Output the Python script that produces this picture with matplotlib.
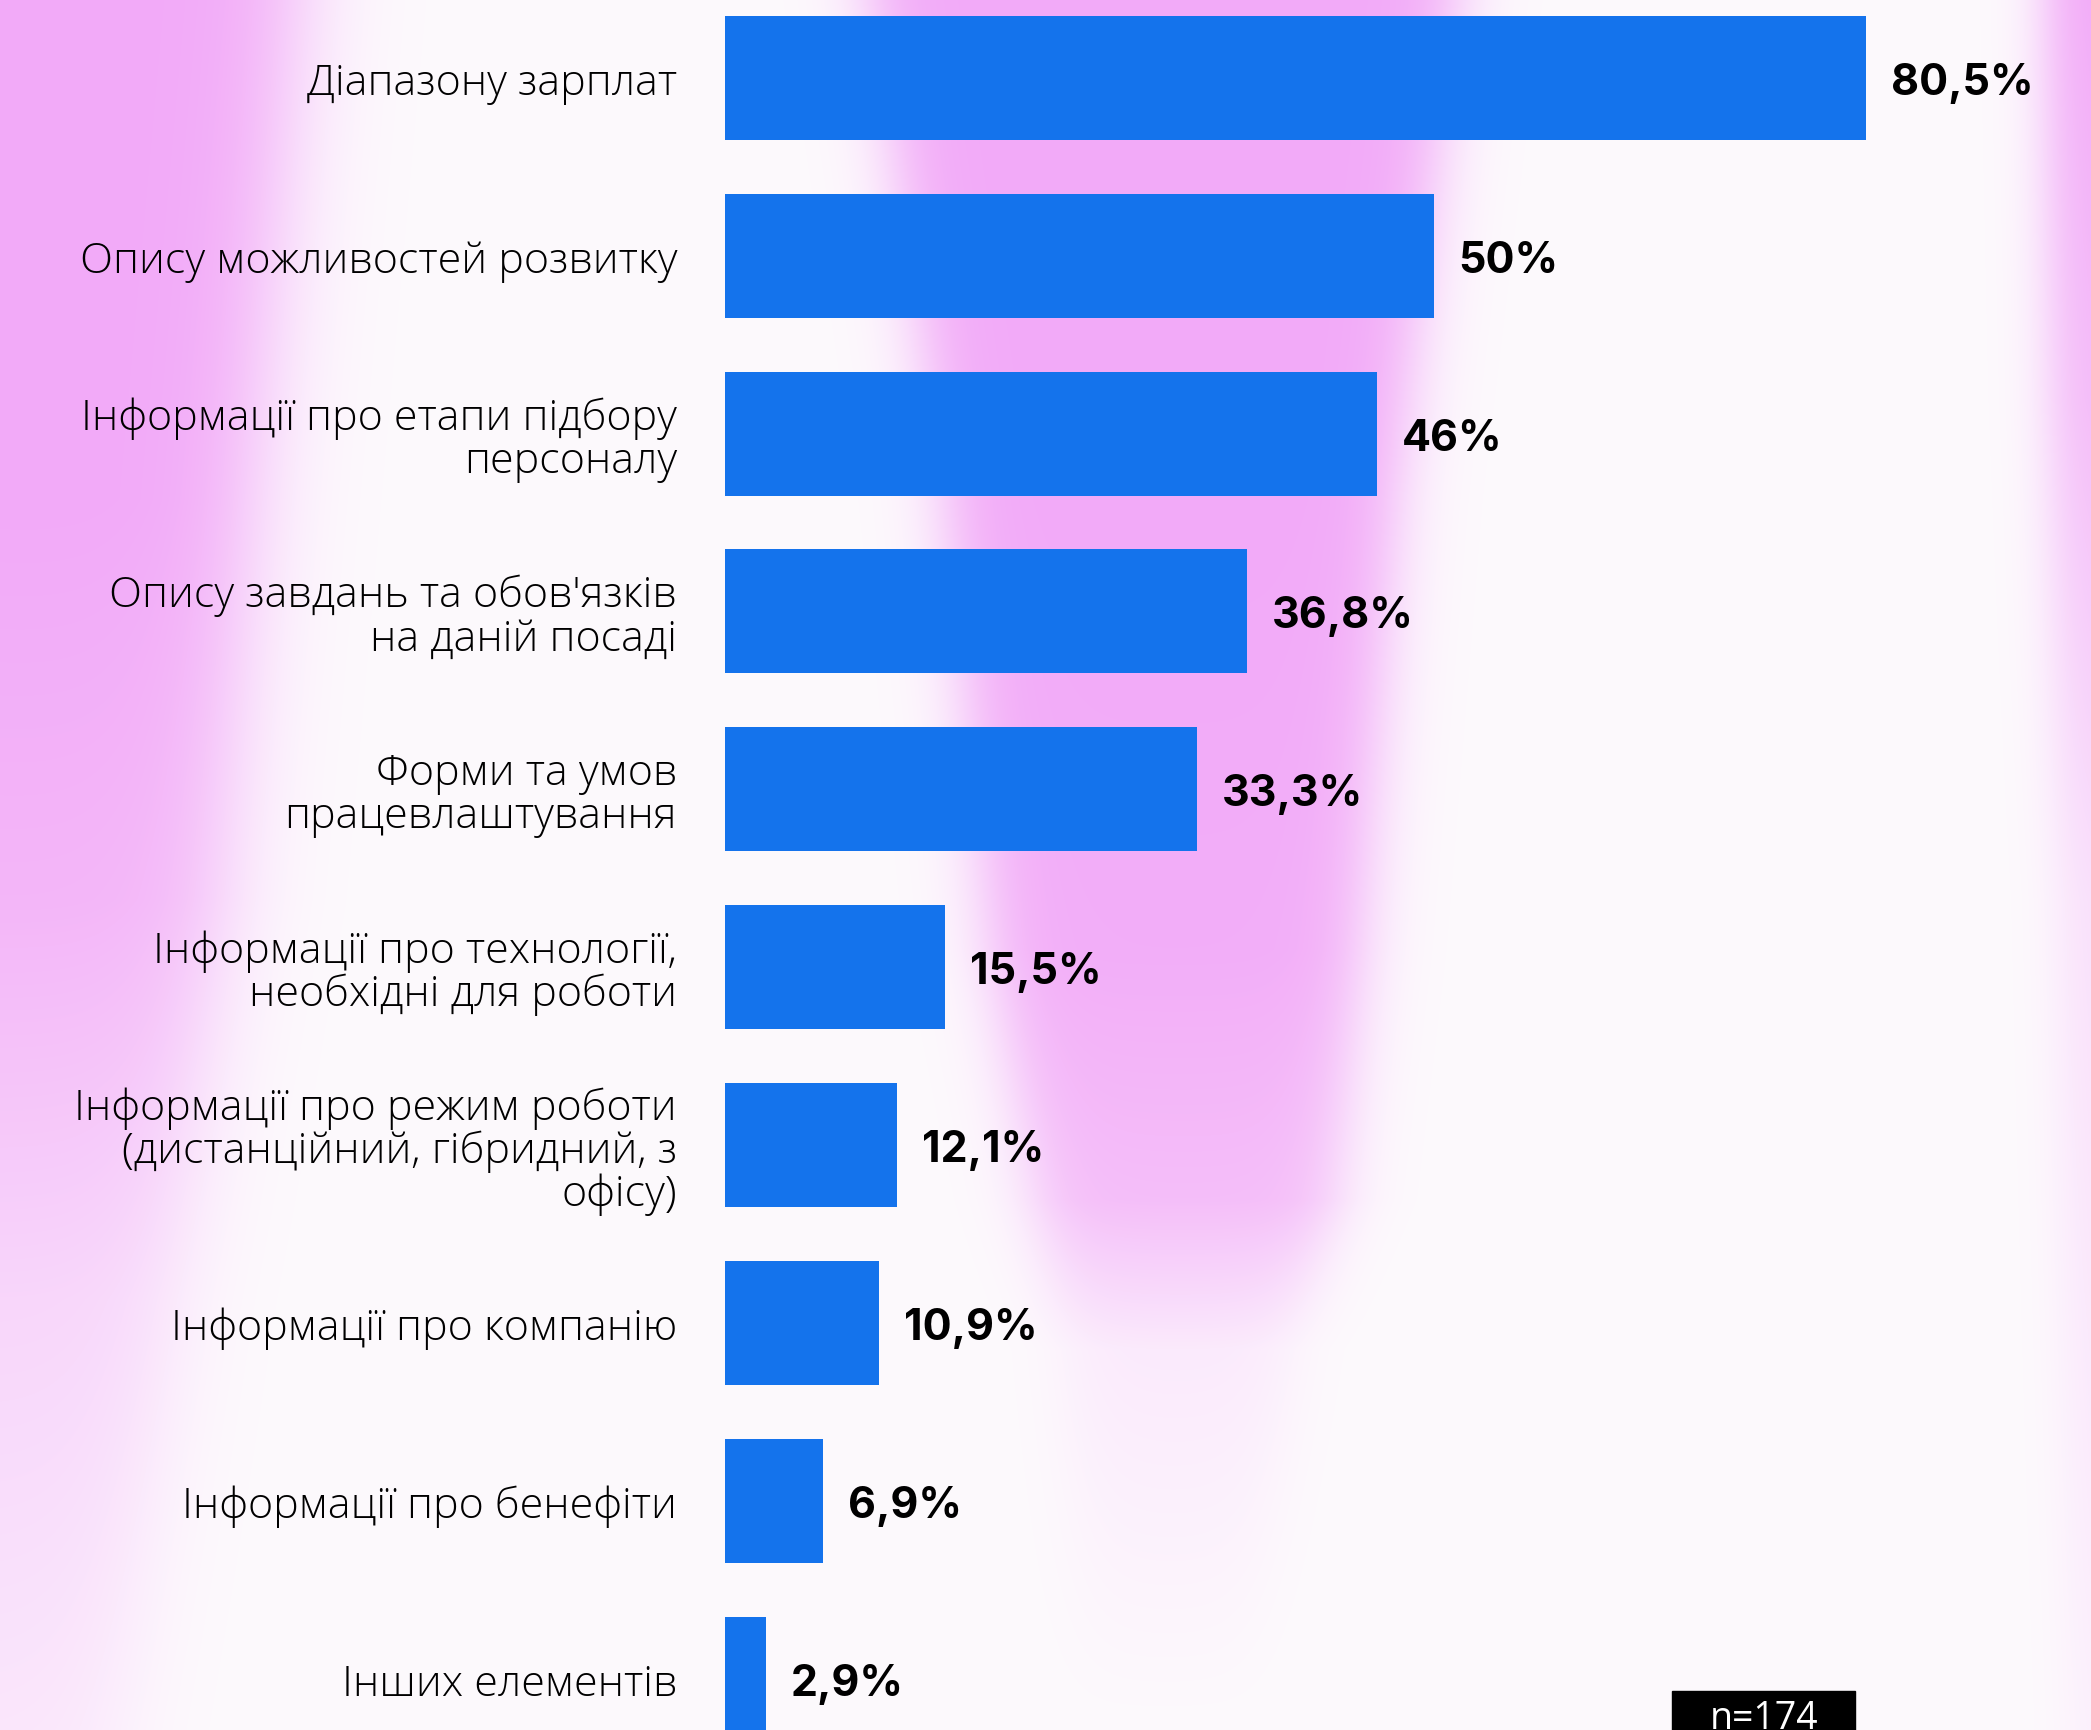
import matplotlib.pyplot as plt
import numpy as np
from matplotlib.patches import Rectangle

# data
categories = [
    "Діапазону зарплат",
    "Опису можливостей розвитку",
    "Інформації про етапи підбору\nперсоналу",
    "Опису завдань та обов'язків\nна даній посаді",
    "Форми та умов\nпрацевлаштування",
    "Інформації про технології,\nнеобхідні для роботи",
    "Інформації про режим роботи\n(дистанційний, гібридний, з\nофісу)",
    "Інформації про компанію",
    "Інформації про бенефіти",
    "Інших елементів",
]
values = [80.5, 50, 46, 36.8, 33.3, 15.5, 12.1, 10.9, 6.9, 2.9]
value_labels = ["80,5%", "50%", "46%", "36,8%", "33,3%", "15,5%", "12,1%", "10,9%", "6,9%", "2,9%"]
sample_note = "n=174"

W, H = 2091, 1731
DPI = 100
bar_color = "#1473ec"
label_font = ["Open Sans", "DejaVu Sans"]
value_font = ["Inter", "DejaVu Sans"]

fig = plt.figure(figsize=(W / DPI, H / DPI), dpi=DPI)

# ---- decorative pink background ----
yy, xx = np.mgrid[0:H, 0:W].astype(float)


def sig(t):
    return 1 / (1 + np.exp(-t))


def band(ys, lefts, rights, amps, soft):
    L = np.interp(yy, ys, lefts)
    R = np.interp(yy, ys, rights)
    A = np.interp(yy, ys, amps)
    return sig((xx - L) / soft) * sig((R - xx) / soft) * A


centre = band([0, 500, 950, 1200, 1350, 1731],
              [870, 945, 990, 1035, 1065, 1080],
              [1455, 1395, 1360, 1335, 1290, 1250],
              [1.0, 1.0, 0.95, 0.75, 0.2, 0.0], 20)
left = band([0, 500, 900, 1300, 1731],
            [-200, -200, -200, -200, -200],
            [295, 250, 220, 170, 120],
            [1.0, 1.0, 0.85, 0.45, 0.25], 30)
right = band([0, 400, 900, 1731],
             [2045, 2050, 2060, 2070],
             [2300, 2300, 2300, 2300],
             [1.0, 0.8, 0.35, 0.15], 15)
inten = np.clip(centre + left + right, 0, 1)
base = np.array([253, 250, 253]) / 255
pink = np.array([242, 170, 248]) / 255
img = base + inten[..., None] * (pink - base)

bg = fig.add_axes([0, 0, 1, 1])
bg.imshow(img, extent=(0, W, H, 0), aspect="auto", interpolation="bilinear")
bg.set_xlim(0, W)
bg.set_ylim(H, 0)
bg.axis("off")

# ---- bars ----
x0 = 725
px_per_pct = 14.174
first_c, step = 78.7, 177.9
ax = fig.add_axes([x0 / W, 0, (W - x0) / W, 1])
ax.patch.set_alpha(0)
y = np.arange(len(values))
ax.barh(y, values, height=124 / step, color=bar_color)
ax.set_xlim(0, (W - x0) / px_per_pct)
ax.set_ylim((H - first_c) / step, -first_c / step)

for yi, v, lab in zip(y, values, value_labels):
    ax.text(v + 25 / px_per_pct, yi, lab, va="center_baseline", ha="left",
            fontsize=31, fontweight="bold", family=value_font, color="black")

ax.set_yticks(y, categories)
ax.tick_params(axis="y", length=0, pad=48 * 72 / DPI)
for t in ax.get_yticklabels():
    t.set_fontfamily(label_font)
    t.set_fontsize(31)
    t.set_fontweight("light")
    t.set_linespacing(1.02)
    t.set_color("black")
ax.set_xticks([])
for s in ax.spines.values():
    s.set_visible(False)

# sample size box
fig.patches.append(Rectangle((1672 / W, 0), (1855 - 1672) / W, (H - 1692) / H,
                             transform=fig.transFigure, color="black", zorder=5))
fig.text(1764 / W, 2 / H, sample_note, ha="center", va="baseline", color="white",
         fontsize=27, family=label_font, zorder=6)

fig.savefig("out.png", dpi=DPI)
